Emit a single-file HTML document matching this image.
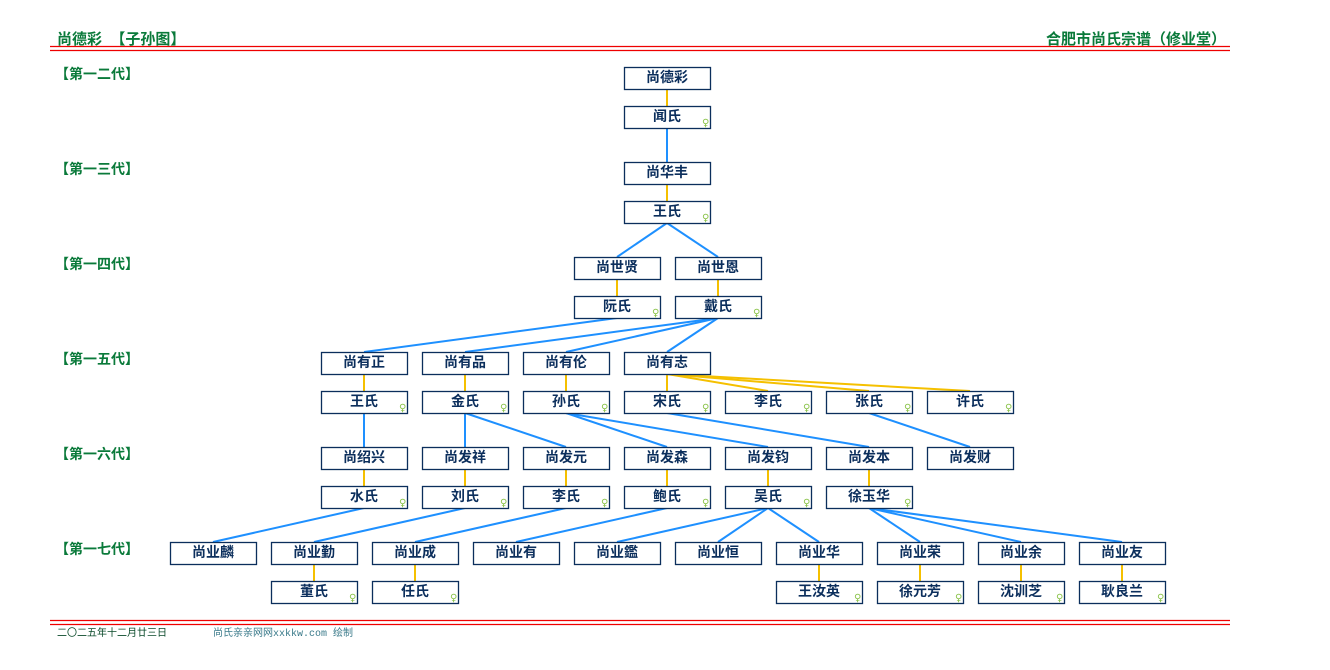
<!DOCTYPE html>
<html><head><meta charset="utf-8"><style>
body{margin:0;background:#fff;}
svg{display:block;}
.b rect{fill:#fff;stroke:#0b2e5c;stroke-width:1.3;}
.b text{font-family:"Liberation Sans","Noto Sans CJK SC",sans-serif;font-size:14px;font-weight:bold;fill:#0b2e5c;text-anchor:middle;}
.f{font-family:"DejaVu Sans",sans-serif;font-size:10px;fill:#8bc34a;}
.g{font-family:"Liberation Sans","Noto Sans CJK SC",sans-serif;font-size:14px;font-weight:bold;fill:#0a7a3a;}
.o{stroke:#f5c000;stroke-width:2;fill:none}
.l{stroke:#1e90ff;stroke-width:2;fill:none}
</style></head><body>
<svg width="1330" height="670" xmlns="http://www.w3.org/2000/svg">
<text class="g" x="57" y="44" font-size="15" style="font-size:15px">尚德彩&#160;&#160;【子孙图】</text>
<text class="g" x="1226" y="44" text-anchor="end" style="font-size:15px">合肥市尚氏宗谱（修业堂）</text>
<line x1="50" y1="46.5" x2="1230" y2="46.5" stroke="#e00" stroke-width="1.3"/>
<line x1="50" y1="50.5" x2="1230" y2="50.5" stroke="#e00" stroke-width="1.3"/>
<line x1="50" y1="620.5" x2="1230" y2="620.5" stroke="#e00" stroke-width="1.3"/>
<line x1="50" y1="624.5" x2="1230" y2="624.5" stroke="#e00" stroke-width="1.3"/>
<text x="57" y="636" font-family="Liberation Sans,Noto Sans CJK SC,sans-serif" font-size="10" fill="#0a4a2a">二〇二五年十二月廿三日</text>
<text x="213" y="636" font-family="Liberation Mono,Noto Sans CJK SC,monospace" font-size="10" fill="#3a7a8a">尚氏亲亲网网xxkkw.com 绘制</text>
<g class="g">
<text x="55" y="79">【第一二代】</text>
<text x="55" y="174">【第一三代】</text>
<text x="55" y="269">【第一四代】</text>
<text x="55" y="364">【第一五代】</text>
<text x="55" y="459">【第一六代】</text>
<text x="55" y="554">【第一七代】</text>
</g>
<g class="o">
<line x1="667" y1="89" x2="667" y2="106"/>
<line x1="667" y1="184" x2="667" y2="201"/>
<line x1="617" y1="279" x2="617" y2="296"/>
<line x1="718" y1="279" x2="718" y2="296"/>
<line x1="364" y1="374" x2="364" y2="391"/>
<line x1="465" y1="374" x2="465" y2="391"/>
<line x1="566" y1="374" x2="566" y2="391"/>
<line x1="667" y1="374" x2="667" y2="391"/>
<line x1="667" y1="374" x2="768" y2="391"/>
<line x1="667" y1="374" x2="869" y2="391"/>
<line x1="667" y1="374" x2="970" y2="391"/>
<line x1="364" y1="469" x2="364" y2="486"/>
<line x1="465" y1="469" x2="465" y2="486"/>
<line x1="566" y1="469" x2="566" y2="486"/>
<line x1="667" y1="469" x2="667" y2="486"/>
<line x1="768" y1="469" x2="768" y2="486"/>
<line x1="869" y1="469" x2="869" y2="486"/>
<line x1="314" y1="564" x2="314" y2="581"/>
<line x1="415" y1="564" x2="415" y2="581"/>
<line x1="819" y1="564" x2="819" y2="581"/>
<line x1="920" y1="564" x2="920" y2="581"/>
<line x1="1021" y1="564" x2="1021" y2="581"/>
<line x1="1122" y1="564" x2="1122" y2="581"/>
</g>
<g class="l">
<line x1="667" y1="128" x2="667" y2="162"/>
<line x1="667" y1="223" x2="617" y2="257"/>
<line x1="667" y1="223" x2="718" y2="257"/>
<line x1="617" y1="318" x2="364" y2="352"/>
<line x1="718" y1="318" x2="465" y2="352"/>
<line x1="718" y1="318" x2="566" y2="352"/>
<line x1="718" y1="318" x2="667" y2="352"/>
<line x1="364" y1="413" x2="364" y2="447"/>
<line x1="465" y1="413" x2="465" y2="447"/>
<line x1="465" y1="413" x2="566" y2="447"/>
<line x1="566" y1="413" x2="667" y2="447"/>
<line x1="566" y1="413" x2="768" y2="447"/>
<line x1="667" y1="413" x2="869" y2="447"/>
<line x1="869" y1="413" x2="970" y2="447"/>
<line x1="364" y1="508" x2="213" y2="542"/>
<line x1="465" y1="508" x2="314" y2="542"/>
<line x1="566" y1="508" x2="415" y2="542"/>
<line x1="667" y1="508" x2="516" y2="542"/>
<line x1="768" y1="508" x2="617" y2="542"/>
<line x1="768" y1="508" x2="718" y2="542"/>
<line x1="768" y1="508" x2="819" y2="542"/>
<line x1="869" y1="508" x2="920" y2="542"/>
<line x1="869" y1="508" x2="1021" y2="542"/>
<line x1="869" y1="508" x2="1122" y2="542"/>
</g>
<g class="b">
<rect x="624.5" y="67.5" width="86" height="22"/><text x="667" y="82">尚德彩</text>
<rect x="624.5" y="162.5" width="86" height="22"/><text x="667" y="177">尚华丰</text>
<rect x="574.5" y="257.5" width="86" height="22"/><text x="617" y="272">尚世贤</text>
<rect x="675.5" y="257.5" width="86" height="22"/><text x="718" y="272">尚世恩</text>
<rect x="321.5" y="352.5" width="86" height="22"/><text x="364" y="367">尚有正</text>
<rect x="422.5" y="352.5" width="86" height="22"/><text x="465" y="367">尚有品</text>
<rect x="523.5" y="352.5" width="86" height="22"/><text x="566" y="367">尚有伦</text>
<rect x="624.5" y="352.5" width="86" height="22"/><text x="667" y="367">尚有志</text>
<rect x="321.5" y="447.5" width="86" height="22"/><text x="364" y="462">尚绍兴</text>
<rect x="422.5" y="447.5" width="86" height="22"/><text x="465" y="462">尚发祥</text>
<rect x="523.5" y="447.5" width="86" height="22"/><text x="566" y="462">尚发元</text>
<rect x="624.5" y="447.5" width="86" height="22"/><text x="667" y="462">尚发森</text>
<rect x="725.5" y="447.5" width="86" height="22"/><text x="768" y="462">尚发钧</text>
<rect x="826.5" y="447.5" width="86" height="22"/><text x="869" y="462">尚发本</text>
<rect x="927.5" y="447.5" width="86" height="22"/><text x="970" y="462">尚发财</text>
<rect x="170.5" y="542.5" width="86" height="22"/><text x="213" y="557">尚业麟</text>
<rect x="271.5" y="542.5" width="86" height="22"/><text x="314" y="557">尚业勤</text>
<rect x="372.5" y="542.5" width="86" height="22"/><text x="415" y="557">尚业成</text>
<rect x="473.5" y="542.5" width="86" height="22"/><text x="516" y="557">尚业有</text>
<rect x="574.5" y="542.5" width="86" height="22"/><text x="617" y="557">尚业鑑</text>
<rect x="675.5" y="542.5" width="86" height="22"/><text x="718" y="557">尚业恒</text>
<rect x="776.5" y="542.5" width="86" height="22"/><text x="819" y="557">尚业华</text>
<rect x="877.5" y="542.5" width="86" height="22"/><text x="920" y="557">尚业荣</text>
<rect x="978.5" y="542.5" width="86" height="22"/><text x="1021" y="557">尚业余</text>
<rect x="1079.5" y="542.5" width="86" height="22"/><text x="1122" y="557">尚业友</text>
<rect x="624.5" y="106.5" width="86" height="22"/><text x="667" y="121">闻氏</text>
<rect x="624.5" y="201.5" width="86" height="22"/><text x="667" y="216">王氏</text>
<rect x="574.5" y="296.5" width="86" height="22"/><text x="617" y="311">阮氏</text>
<rect x="675.5" y="296.5" width="86" height="22"/><text x="718" y="311">戴氏</text>
<rect x="321.5" y="391.5" width="86" height="22"/><text x="364" y="406">王氏</text>
<rect x="422.5" y="391.5" width="86" height="22"/><text x="465" y="406">金氏</text>
<rect x="523.5" y="391.5" width="86" height="22"/><text x="566" y="406">孙氏</text>
<rect x="624.5" y="391.5" width="86" height="22"/><text x="667" y="406">宋氏</text>
<rect x="725.5" y="391.5" width="86" height="22"/><text x="768" y="406">李氏</text>
<rect x="826.5" y="391.5" width="86" height="22"/><text x="869" y="406">张氏</text>
<rect x="927.5" y="391.5" width="86" height="22"/><text x="970" y="406">许氏</text>
<rect x="321.5" y="486.5" width="86" height="22"/><text x="364" y="501">水氏</text>
<rect x="422.5" y="486.5" width="86" height="22"/><text x="465" y="501">刘氏</text>
<rect x="523.5" y="486.5" width="86" height="22"/><text x="566" y="501">李氏</text>
<rect x="624.5" y="486.5" width="86" height="22"/><text x="667" y="501">鲍氏</text>
<rect x="725.5" y="486.5" width="86" height="22"/><text x="768" y="501">吴氏</text>
<rect x="826.5" y="486.5" width="86" height="22"/><text x="869" y="501">徐玉华</text>
<rect x="271.5" y="581.5" width="86" height="22"/><text x="314" y="596">董氏</text>
<rect x="372.5" y="581.5" width="86" height="22"/><text x="415" y="596">任氏</text>
<rect x="776.5" y="581.5" width="86" height="22"/><text x="819" y="596">王汝英</text>
<rect x="877.5" y="581.5" width="86" height="22"/><text x="920" y="596">徐元芳</text>
<rect x="978.5" y="581.5" width="86" height="22"/><text x="1021" y="596">沈训芝</text>
<rect x="1079.5" y="581.5" width="86" height="22"/><text x="1122" y="596">耿良兰</text>
</g>
<g class="f">
<text x="702" y="126">♀</text><text x="702" y="221">♀</text>
<text x="652" y="316">♀</text><text x="753" y="316">♀</text>
<text x="399" y="411">♀</text><text x="500" y="411">♀</text><text x="601" y="411">♀</text><text x="702" y="411">♀</text><text x="803" y="411">♀</text><text x="904" y="411">♀</text><text x="1005" y="411">♀</text>
<text x="399" y="506">♀</text><text x="500" y="506">♀</text><text x="601" y="506">♀</text><text x="702" y="506">♀</text><text x="803" y="506">♀</text><text x="904" y="506">♀</text>
<text x="349" y="601">♀</text><text x="450" y="601">♀</text><text x="854" y="601">♀</text><text x="955" y="601">♀</text><text x="1056" y="601">♀</text><text x="1157" y="601">♀</text>
</g>
</svg>
</body></html>
